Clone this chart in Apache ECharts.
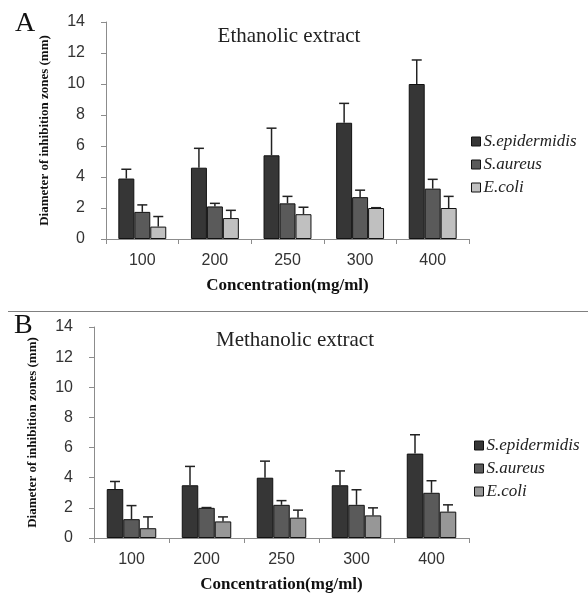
<!DOCTYPE html>
<html>
<head>
<meta charset="utf-8">
<script src="https://cdn.jsdelivr.net/npm/echarts@6/dist/echarts.min.js"></script>
<style>
  html, body { margin: 0; padding: 0; background: #fff; }
  #main { width: 588px; height: 594px; }
</style>
</head>
<body>
<div id="main"></div>
<script>
// concentrations (mg/ml)
var categories = ["100", "200", "250", "300", "400"];
var seriesNames = ["S.epidermidis", "S.aureus", "E.coli"];
var yTicks = [0, 2, 4, 6, 8, 10, 12, 14];

// A: ethanolic extract, means and upper error (SD)
var ethEpi = [3.9, 4.6, 5.4, 7.5, 10.0];
var ethEpiErr = [0.6, 1.25, 1.75, 1.25, 1.55];
var ethAur = [1.75, 2.1, 2.3, 2.7, 3.25];
var ethAurErr = [0.45, 0.2, 0.45, 0.45, 0.6];
var ethCol = [0.8, 1.35, 1.6, 2.0, 2.0];
var ethColErr = [0.65, 0.5, 0.45, 0.02, 0.75];

// B: methanolic extract
var metEpi = [3.25, 3.5, 4.0, 3.5, 5.6];
var metEpiErr = [0.5, 1.25, 1.1, 0.95, 1.25];
var metAur = [1.25, 2.0, 2.2, 2.2, 3.0];
var metAurErr = [0.9, 0.02, 0.28, 1.0, 0.8];
var metCol = [0.65, 1.1, 1.35, 1.5, 1.75];
var metColErr = [0.75, 0.3, 0.5, 0.5, 0.45];

var chart = echarts.init(document.getElementById("main"));

var darkColor = "#363636";
var midColor = "#5a5a5a";
var lightA = "#c0c0c0";
var lightB = "#979797";
var BAR_W = 0.22;

function barSeries(name, data, color, idx) {
  return {
    name: name,
    type: "bar",
    xAxisIndex: idx,
    yAxisIndex: idx,
    data: data,
    barWidth: "22%",
    barGap: "0%",
    itemStyle: { color: color, borderColor: "#111", borderWidth: 1 },
    animation: false
  };
}

// upward error bars with a small cap, placed over each bar
function errSeries(vals, errs, pos, idx) {
  var d = vals.map(function (v, i) { return [i, v, errs[i]]; });
  return {
    type: "custom",
    xAxisIndex: idx,
    yAxisIndex: idx,
    data: d,
    z: 5,
    silent: true,
    animation: false,
    renderItem: function (params, api) {
      var base = api.coord([api.value(0), api.value(1)]);
      var top = api.coord([api.value(0), api.value(1) + api.value(2)]);
      var band = api.size([1, 0])[0];
      var x = base[0] + (pos - 1) * band * BAR_W;
      var st = { stroke: "#222", lineWidth: 1.5 };
      return {
        type: "group",
        children: [
          { type: "line", shape: { x1: x, y1: base[1], x2: x, y2: top[1] }, style: st },
          { type: "line", shape: { x1: x - 5, y1: top[1], x2: x + 5, y2: top[1] }, style: st }
        ]
      };
    }
  };
}

function xAx(idx) {
  return {
    type: "category",
    gridIndex: idx,
    data: categories,
    axisLine: { lineStyle: { color: "#8c8c8c", width: 1 } },
    axisTick: { show: true, length: 5, lineStyle: { color: "#8c8c8c" } },
    axisLabel: { color: "#333", fontSize: 16, fontFamily: "Liberation Sans", margin: 14 },
    name: "Concentration(mg/ml)",
    nameLocation: "middle",
    nameGap: 38,
    nameTextStyle: { color: "#111", fontSize: 17, fontWeight: "bold", fontFamily: "Liberation Serif" }
  };
}

function yAx(idx) {
  return {
    type: "value",
    gridIndex: idx,
    min: 0,
    max: 14,
    interval: 2,
    splitLine: { show: false },
    axisLine: { show: true, lineStyle: { color: "#8c8c8c", width: 1 } },
    axisTick: { show: true, length: 5, lineStyle: { color: "#8c8c8c" } },
    axisLabel: { color: "#333", fontSize: 16, fontFamily: "Liberation Sans", margin: 21 },
    name: "Diameter of inhibition zones (mm)",
    nameLocation: "middle",
    nameRotate: 90,
    nameGap: 55,
    nameTextStyle: { color: "#111", fontSize: 13, fontWeight: "bold", fontFamily: "Liberation Serif" }
  };
}

function legend(top, left, names) {
  return {
    orient: "vertical",
    left: left,
    top: top,
    data: names.map(function (n) { return { name: n }; }),
    icon: "rect",
    itemWidth: 9,
    itemHeight: 9,
    itemGap: 6,
    itemStyle: { borderColor: "#111", borderWidth: 1 },
    textStyle: { fontSize: 17, fontStyle: "italic", fontFamily: "Liberation Serif", color: "#222", lineHeight: 17, padding: [0, 0, 0, -2] },
    selectedMode: false
  };
}

var titleStyle = { fontSize: 21, fontWeight: "normal", fontFamily: "Liberation Serif", color: "#222" };
var letterStyle = { fontSize: 28, fontWeight: "normal", fontFamily: "Liberation Serif", color: "#111" };

var option = {
  backgroundColor: "#fff",
  animation: false,
  title: [
    { text: "Ethanolic extract", left: 284, top: 21, textAlign: "center", textStyle: titleStyle },
    { text: "Methanolic extract", left: 290, top: 325, textAlign: "center", textStyle: titleStyle },
    { text: "A", left: 10, top: 5, textStyle: letterStyle },
    { text: "B", left: 9, top: 307, textStyle: letterStyle }
  ],
  legend: [
    legend(128, 466, [seriesNames[0], seriesNames[1], seriesNames[2]]),
    legend(432, 469, [seriesNames[0], seriesNames[1], seriesNames[2] + " "])
  ],
  grid: [
    { left: 106, top: 22, width: 363, height: 217 },
    { left: 94, top: 327, width: 375, height: 216 }
  ],
  xAxis: [xAx(0), xAx(1)],
  yAxis: [yAx(0), yAx(1)],
  graphic: [
    { type: "line", shape: { x1: 8, y1: 311.5, x2: 588, y2: 311.5 },
      style: { stroke: "#808080", lineWidth: 1.2 } }
  ],
  series: [
    barSeries(seriesNames[0], ethEpi, darkColor, 0),
    barSeries(seriesNames[1], ethAur, midColor, 0),
    barSeries(seriesNames[2], ethCol, lightA, 0),
    errSeries(ethEpi, ethEpiErr, 0, 0),
    errSeries(ethAur, ethAurErr, 1, 0),
    errSeries(ethCol, ethColErr, 2, 0),
    barSeries(seriesNames[0], metEpi, darkColor, 1),
    barSeries(seriesNames[1], metAur, midColor, 1),
    // separate name so the B legend shows its own darker grey
    barSeries(seriesNames[2] + " ", metCol, lightB, 1),
    errSeries(metEpi, metEpiErr, 0, 1),
    errSeries(metAur, metAurErr, 1, 1),
    errSeries(metCol, metColErr, 2, 1)
  ]
};

chart.setOption(option);
</script>
</body>
</html>
